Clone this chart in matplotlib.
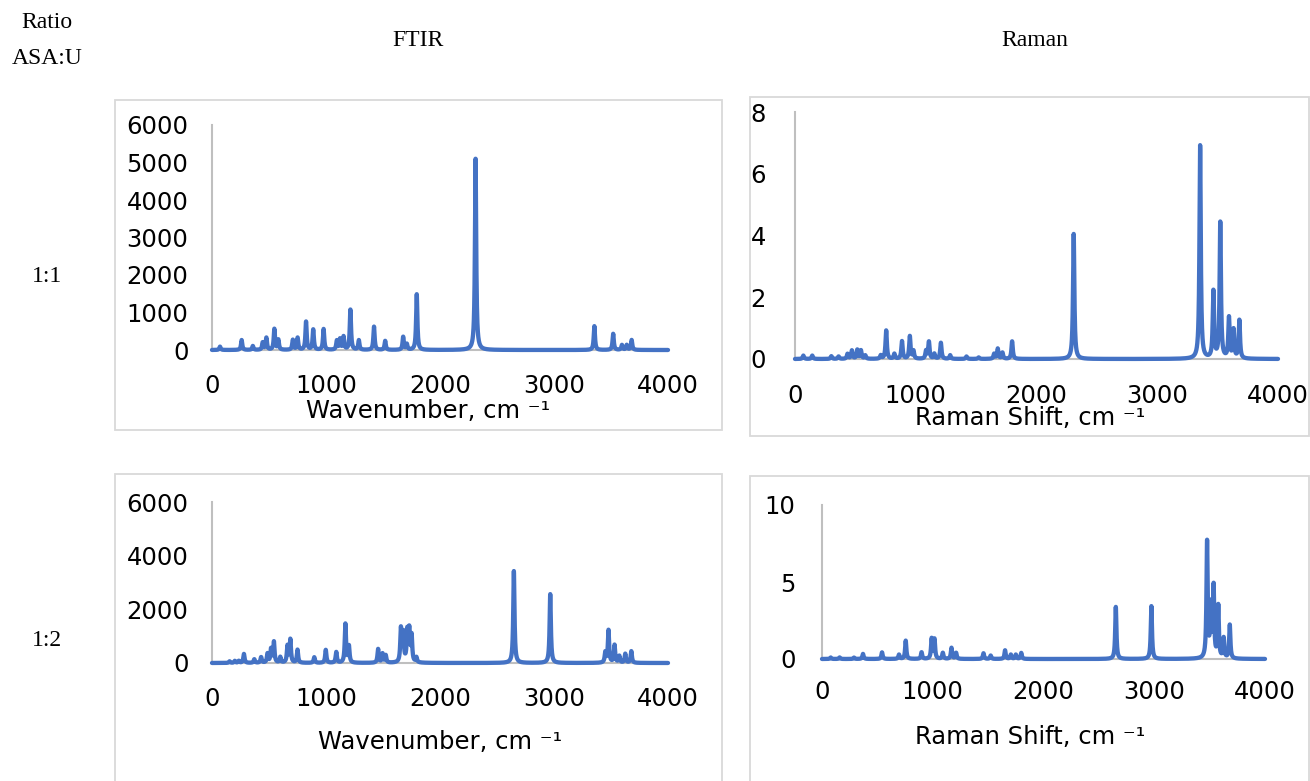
import numpy as np
import matplotlib
matplotlib.use("Agg")
import matplotlib.pyplot as plt
from matplotlib.patches import Rectangle

# ---------------- peak tables (position cm-1, intensity) ----------------
ftir_11_pos = [70, 260, 358, 445, 477, 547, 582, 709, 751, 825, 888, 979,
               1095, 1123, 1154, 1214, 1288, 1421, 1519, 1677, 1709, 1796,
               2312, 3354, 3519, 3596, 3638, 3681]
ftir_11_int = [90, 265, 105, 195, 320, 555, 265, 265, 320, 750, 540, 555,
               240, 280, 345, 1070, 255, 620, 240, 345, 150, 1485,
               5100, 635, 430, 130, 130, 265]

raman_11_pos = [69, 143, 301, 361, 435, 471, 516, 546, 582, 710, 755, 823,
                886, 951, 981, 1085, 1109, 1154, 1208, 1285, 1420, 1521,
                1649, 1679, 1718, 1798, 2308, 3355, 3465, 3522, 3594, 3632,
                3680]
raman_11_int = [0.11, 0.11, 0.09, 0.08, 0.16, 0.27, 0.29, 0.27, 0.11, 0.11,
                0.92, 0.16, 0.57, 0.73, 0.25, 0.25, 0.55, 0.16, 0.52, 0.12,
                0.08, 0.05, 0.16, 0.33, 0.20, 0.57, 4.05, 6.91, 2.16, 4.40,
                1.31, 0.92, 1.24]

ftir_12_pos = [154, 200, 235, 280, 371, 431, 487, 518, 543, 599, 662, 687,
               750, 897, 998, 1090, 1170, 1201, 1457, 1496, 1524, 1657,
               1678, 1713, 1730, 1751, 1793, 2648, 2967, 3450, 3478, 3531,
               3573, 3625, 3678]
ftir_12_int = [60, 75, 75, 335, 135, 210, 335, 500, 770, 210, 620, 860,
               485, 210, 485, 400, 1445, 610, 510, 335, 275, 1245,
               1060, 1120, 1145, 970, 185, 3425, 2565, 375, 1210, 660,
               250, 335, 435]

raman_12_pos = [78, 159, 289, 370, 542, 695, 756, 899, 990, 1016, 1091,
                1169, 1211, 1458, 1523, 1653, 1705, 1750, 1799, 2653, 2974,
                3477, 3510, 3536, 3578, 3627, 3682]
raman_12_int = [0.10, 0.10, 0.09, 0.33, 0.43, 0.28, 1.19, 0.43, 1.30, 1.26,
                0.39, 0.72, 0.39, 0.37, 0.22, 0.56, 0.28, 0.28, 0.39, 3.38,
                3.43, 7.55, 3.28, 4.58, 3.38, 1.30, 2.19]

x_ticks = [0, 1000, 2000, 3000, 4000]
ftir_yticks = {"1:1": [0, 1000, 2000, 3000, 4000, 5000, 6000],
               "1:2": [0, 2000, 4000, 6000]}
raman_yticks = {"1:1": [0, 2, 4, 6, 8],
                "1:2": [0, 5, 10]}

row_labels = ["1:1", "1:2"]
col_titles = ["FTIR", "Raman"]
ftir_xlabel = "Wavenumber, cm \u207b\u00b9"
raman_xlabel = "Raman Shift, cm \u207b\u00b9"

# ---------------- styling ----------------
LINE = "#4472C4"
AXIS_GREY = "#BFBFBF"
FRAME_GREY = "#D9D9D9"
W, H = 1310, 781
SANS = ["DejaVu Sans"]
SERIF = ["Liberation Serif", "DejaVu Serif"]
TICK_FS = 17.5

wavenumber = np.arange(0.0, 4000.5, 1.0)


def spectrum(pos, inten, hwhm=6.5):
    p = np.asarray(pos, float)[None, :]
    a = np.asarray(inten, float)[None, :]
    x = wavenumber[:, None]
    return (a / (1.0 + ((x - p) / hwhm) ** 2)).sum(axis=1)


fig = plt.figure(figsize=(W / 100, H / 100), dpi=100)
fig.patch.set_facecolor("white")


def fx(px):
    return px / W


def fy(py):
    return 1 - py / H


def frame(x0, y0, x1, y1):
    fig.patches.append(Rectangle((fx(x0), fy(y1)), fx(x1) - fx(x0), fy(y0) - fy(y1),
                                 transform=fig.transFigure, fill=False,
                                 edgecolor=FRAME_GREY, linewidth=1.3))


def panel(left, right, ybase, ytop, yticks, pos, inten, xlabel, label_xy,
          ypad, xpad):
    ax = fig.add_axes([fx(left), fy(ybase), fx(right) - fx(left), fy(ytop) - fy(ybase)])
    ax.plot(wavenumber, spectrum(pos, inten), color=LINE, lw=3.1,
            solid_joinstyle="round", solid_capstyle="round", zorder=3,
            clip_on=False)
    ax.set_xlim(0, 4000)
    ax.set_ylim(yticks[0], yticks[-1])
    ax.set_xticks(x_ticks)
    ax.set_yticks(yticks)
    ax.set_facecolor("none")
    for s in ("top", "right"):
        ax.spines[s].set_visible(False)
    for s in ("left", "bottom"):
        ax.spines[s].set_color(AXIS_GREY)
        ax.spines[s].set_linewidth(1.5)
    ax.tick_params(axis="both", length=0, labelsize=TICK_FS, colors="black")
    ax.tick_params(axis="y", pad=ypad)
    ax.tick_params(axis="x", pad=xpad)
    for t in ax.get_xticklabels() + ax.get_yticklabels():
        t.set_family(SANS)
    ax.set_xlabel(xlabel, fontsize=TICK_FS, family=SANS)
    lx, ly = label_xy
    ax.xaxis.set_label_coords((lx - left) / (right - left),
                              (ybase - ly) / (ybase - ytop))
    ax.xaxis.label.set_va("center")
    return ax


# panel frames
frame(115, 100, 722, 430)
frame(750, 97, 1309, 436)
frame(115, 474, 722, 800)
frame(750, 476, 1309, 800)

panel(212, 668, 350, 125, ftir_yticks["1:1"], ftir_11_pos, ftir_11_int,
      ftir_xlabel, (428, 411), 17, 17)
panel(795, 1278, 359, 112, raman_yticks["1:1"], raman_11_pos, raman_11_int,
      raman_xlabel, (1030, 418), 21, 18)
panel(212, 668, 663, 502, ftir_yticks["1:2"], ftir_12_pos, ftir_12_int,
      ftir_xlabel, (440, 742), 17, 17)
panel(822, 1265, 659, 505, raman_yticks["1:2"], raman_12_pos, raman_12_int,
      raman_xlabel, (1030, 737), 19, 15)

# table headers
hdr = dict(family=SERIF, fontsize=17, ha="center", va="center", color="black")
fig.text(fx(47), fy(23), "Ratio", **hdr)
fig.text(fx(47), fy(58), "ASA:U", **hdr)
fig.text(fx(418), fy(41), col_titles[0], **hdr)
fig.text(fx(1035), fy(41), col_titles[1], **hdr)
fig.text(fx(47), fy(276), row_labels[0], **hdr)
fig.text(fx(47), fy(641), row_labels[1], **hdr)

fig.savefig("out.png", dpi=100, facecolor="white")
